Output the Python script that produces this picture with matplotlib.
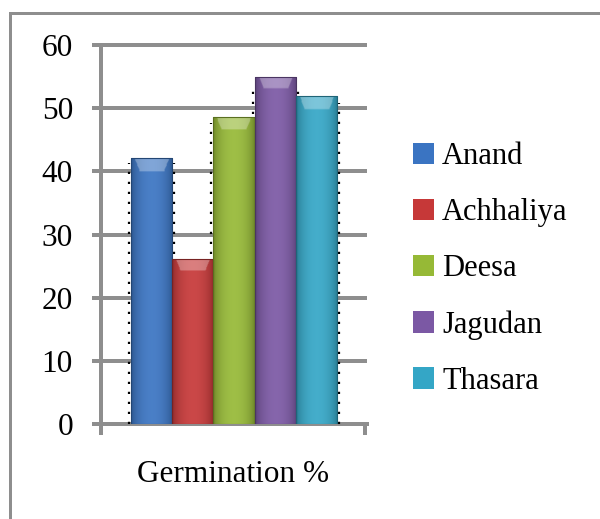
import numpy as np
import matplotlib
matplotlib.use('Agg')
import matplotlib.pyplot as plt
from matplotlib.colors import to_rgb
from matplotlib.patches import Rectangle

# ---- data ----
categories = ['Anand', 'Achhaliya', 'Deesa', 'Jagudan', 'Thasara']
values = [42.1, 26.2, 48.6, 55.0, 51.9]
colors = ['#3a74c2', '#c63838', '#96b936', '#7b58a4', '#34a6c6']
xlabel = 'Germination %'
yticks = [0, 10, 20, 30, 40, 50, 60]

plt.rcParams['font.family'] = ['Liberation Serif', 'DejaVu Serif']

W, H = 600, 519
fig = plt.figure(figsize=(W / 100, H / 100), dpi=100)
ax = fig.add_axes([101 / W, 1 - 424 / H, (365 - 101) / W, (424 - 45) / H])

grid_col = '#8e8e8e'
px = 72 / 100  # points per pixel

# outer border (open at right / bottom)
fig.add_artist(Rectangle((9.5 / W, -0.1), 1.2, (1 - 12.5 / H) + 0.1,
                         transform=fig.transFigure, fill=False,
                         edgecolor=grid_col, lw=3 * px))

bw = 0.156
center = 0.504
xs = [center + (i - 2) * bw for i in range(len(categories))]

bars = ax.bar(xs, values, width=bw, color=colors, zorder=3,
              edgecolor='none', label=None)

# glossy gradient overlay, clipped to each bar
for b, c, v in zip(bars, colors, values):
    base = np.array(to_rgb(c))
    nx, ny = 60, 200
    u = np.linspace(0, 1, nx)
    t = np.sin(np.pi * u) ** 0.6
    img = np.zeros((ny, nx, 3))
    for j in range(ny):
        yy = (j + 0.5) / ny * v
        row = base[None, :] * (0.7 + 0.3 * t[:, None])
        row = row + (1 - row) * (0.08 * t[:, None])
        # top cap highlight (~2 units tall trapezoid)
        dtop = v - yy
        if dtop < 2.0:
            frac = dtop / 2.0
            inset = 0.08 + 0.12 * frac
            mask = (u > inset) & (u < 1 - inset)
            row[mask] = row[mask] + (1 - row[mask]) * 0.3
        img[j] = row
    x0 = b.get_x()
    im = ax.imshow(img, extent=[x0, x0 + bw, 0, v], origin='lower',
                   aspect='auto', zorder=3.1, interpolation='bilinear')
    im.set_clip_path(b)
    # thin darker outline
    ax.add_patch(Rectangle((x0, 0), bw, v, fill=False,
                           edgecolor=base * 0.6, lw=0.8, zorder=3.2))

# dotted shadow lines behind the bars
off = 2.0 / 264
for b, v in zip(bars, values):
    x0 = b.get_x()
    ax.vlines([x0 - off, x0 + bw + off], 0, v * 0.98, colors='black',
              linestyles=(0, (1, 3.5)), lw=1.6, zorder=2.5)

ax.set_xlim(0, 1)
ax.set_ylim(0, 60)

# gridlines
ax.hlines(yticks[1:], 0, 1.008, colors=grid_col, lw=4 * px, zorder=1,
          clip_on=False)

for s in ['top', 'right']:
    ax.spines[s].set_visible(False)
for s in ['left', 'bottom']:
    ax.spines[s].set_color(grid_col)
    ax.spines[s].set_linewidth(4 * px)
    ax.spines[s].set_zorder(1)
ax.spines['bottom'].set_bounds(0, 1.008)

ax.set_yticks(yticks)
ax.set_yticklabels([str(v) for v in yticks])
ax.tick_params(axis='y', length=9 * px, width=4 * px, color=grid_col,
               pad=19 * px, labelsize=22.5, direction='out')

ax.set_xticks([0, 1])
ax.set_xticklabels(['', ''])
ax.tick_params(axis='x', which='major', length=11 * px, width=4 * px,
               color=grid_col, direction='out')
ax.set_xticks([0.5], [xlabel], minor=True)
ax.tick_params(axis='x', which='minor', length=0, pad=36 * px, labelsize=22.5)

leg = fig.legend(handles=list(bars), labels=categories,
                 loc='center left', bbox_to_anchor=(413 / W, 1 - 269 / H),
                 frameon=False, fontsize=22, handlelength=0.7,
                 handleheight=0.7, handletextpad=0.25, labelspacing=0.88,
                 borderpad=0, borderaxespad=0)

fig.savefig('out.png', dpi=100)
